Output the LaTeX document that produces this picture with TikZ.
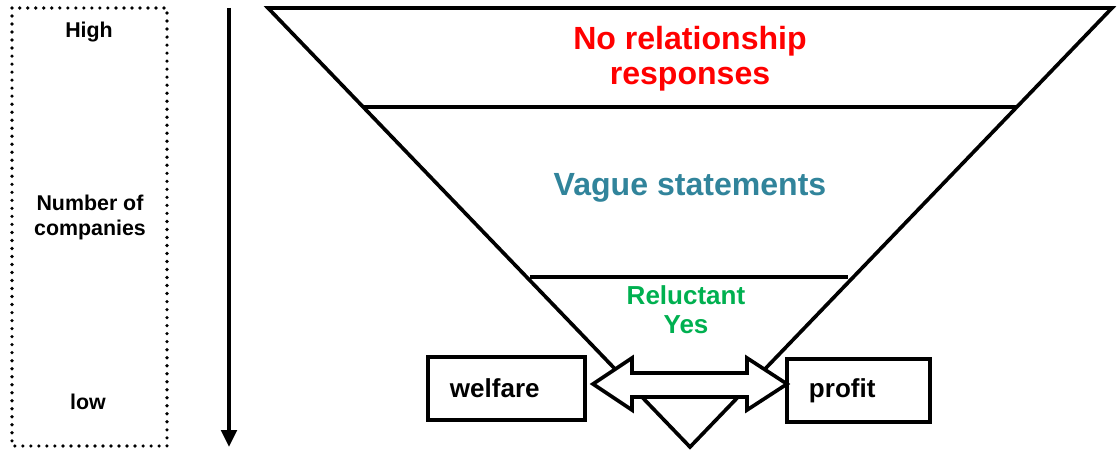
\documentclass[tikz,border=0pt]{standalone}
\usepackage{fontspec}
\setmainfont{Liberation Sans}
\usepackage{xcolor}
\usetikzlibrary{arrows.meta}
\definecolor{vaguecol}{RGB}{49,132,155}
\definecolor{reluctcol}{RGB}{0,176,80}

\begin{document}
\begin{tikzpicture}[x=0.025cm,y=-0.025cm,
            edge/.style={line width=2.6pt, line join=miter},
            box/.style={draw, line width=2.6pt, minimum height=1.575cm, inner xsep=0.55cm, align=left},
            big/.style={font=\bfseries\fontsize{22.8}{24.9}\selectfont, align=center},
            mid/.style={font=\bfseries\fontsize{18.5}{20.6}\selectfont, align=center},
            side/.style={font=\bfseries\fontsize{15.2}{17.8}\selectfont, align=center}]
        \useasboundingbox (0,0) rectangle (1117,451);

        % scale on the left
        \draw[line width=2.6pt, line cap=round, dash pattern=on 0pt off 5.7pt] (12,8) rectangle (167,446);
        \node[side] (high) at (89,32) {High};
        \node[side] (number) at (90,217) {Number of\\companies};
        \node[side] (low) at (88,402) {low};
        \coordinate (scaletop) at (229,8);
        \coordinate (scalebot) at (229,447);
        \draw[line width=2.6pt, -{Triangle[length=12pt,width=11pt]}] (scaletop) -- (scalebot);

        % funnel
        \draw[edge] (268,8) -- (1112,8) -- (690,447) -- cycle;
        \draw[edge] (363,107) -- (1017,107);
        \draw[edge] (530,277) -- (848,277);

        \node[big, text=red] (norel) at (690,59) {No relationship\\responses};
        \node[big, text=vaguecol] (vague) at (690,188) {Vague statements};
        \node[mid, text=reluctcol] (reluct) at (686,310) {Reluctant\\Yes};

        % welfare and profit
        \node[box, text width=2.825cm, font=\bfseries\fontsize{18.5}{20.6}\selectfont] (welfare) at (506.5,388.5) {welfare};
        \node[box, text width=2.475cm, font=\bfseries\fontsize{18.5}{20.6}\selectfont] (profit) at (858.5,390.5) {profit};
        \draw[edge, fill=white] (593,384) -- (632,358) -- (632,373) -- (747,373) -- (747,358)
            -- (787,384) -- (747,410) -- (747,397) -- (632,397) -- (632,410) -- cycle;
    \end{tikzpicture}
\end{document}
